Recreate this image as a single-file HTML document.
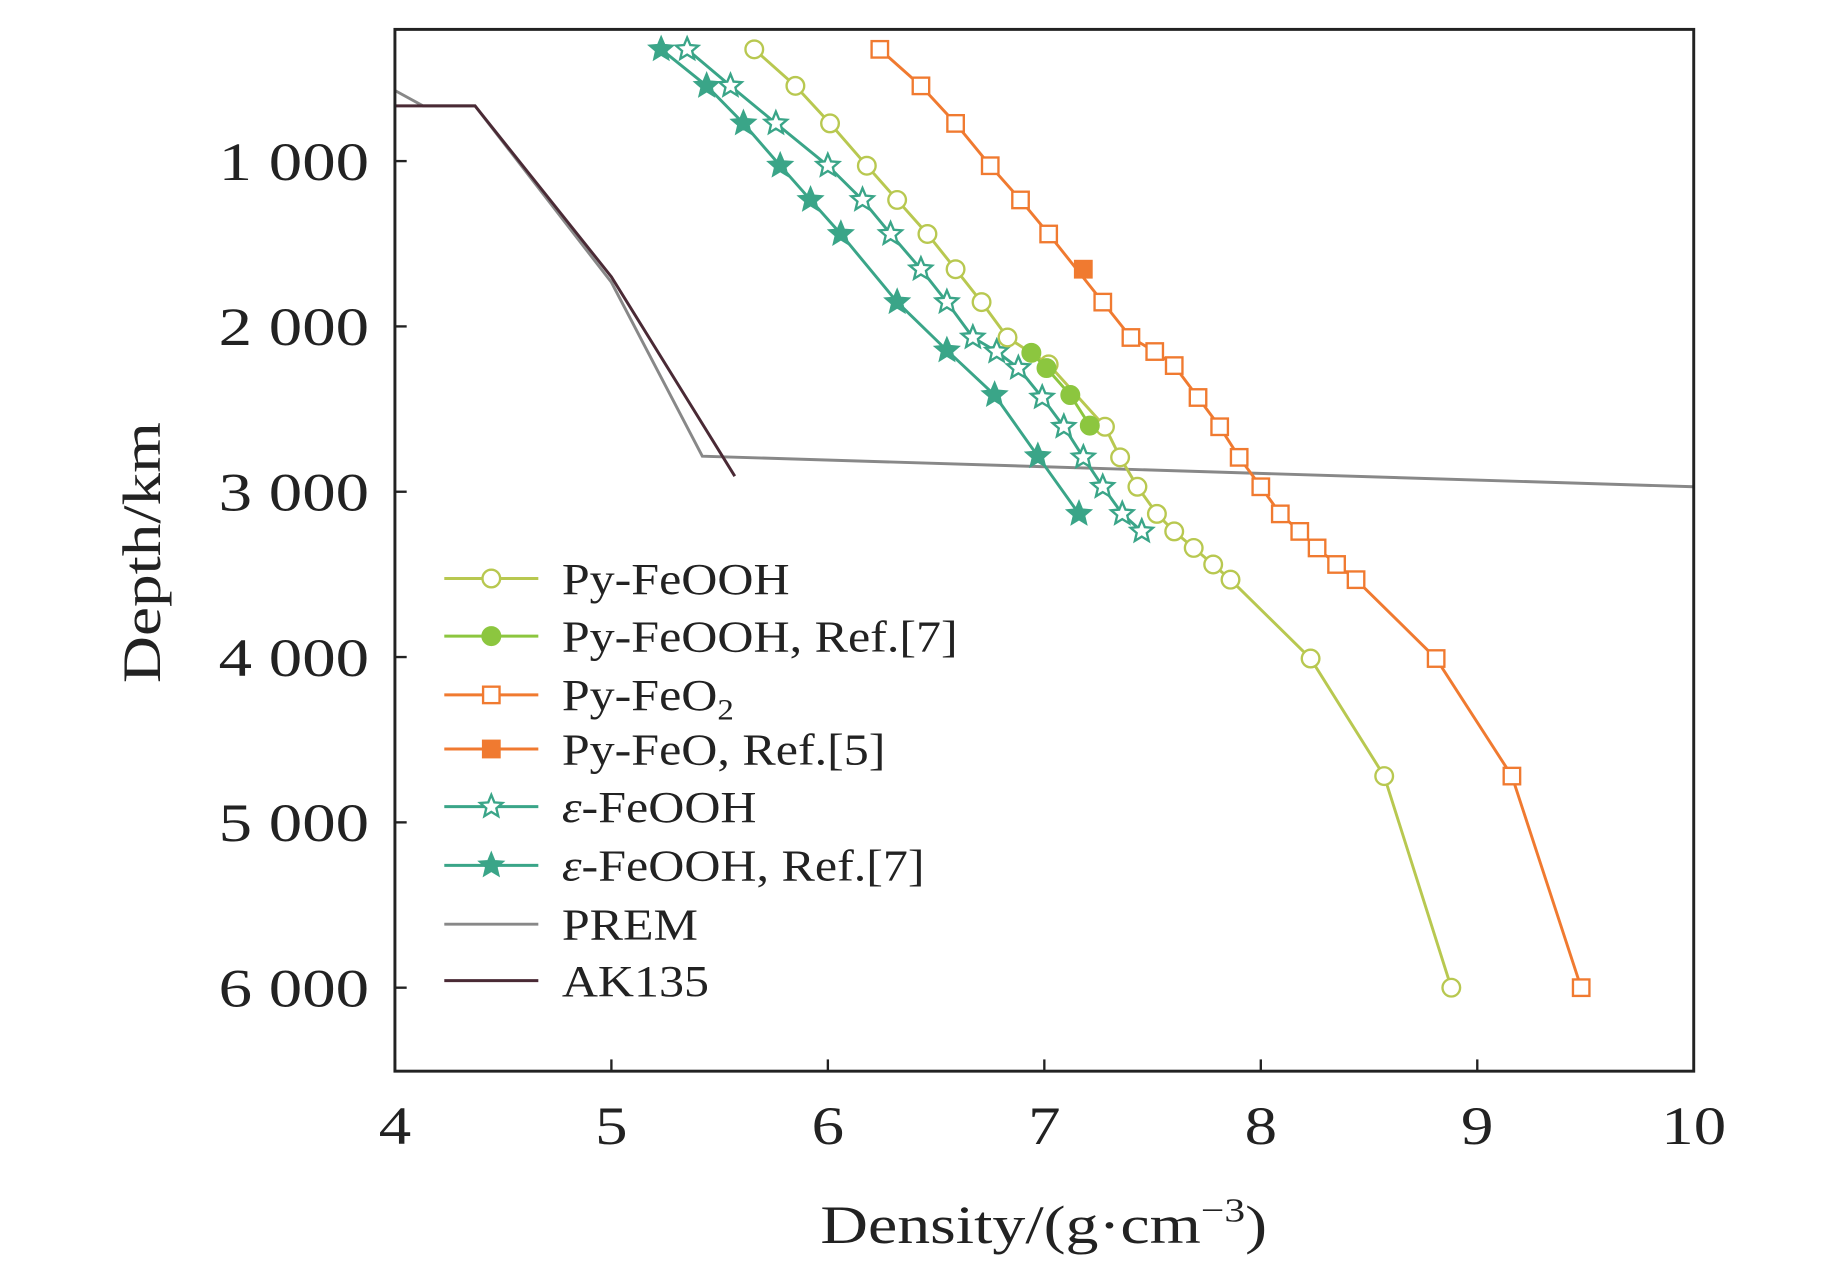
<!DOCTYPE html>
<html><head><meta charset="utf-8"><style>
html,body{margin:0;padding:0;background:#fff;}
svg{display:block;}
text{font-family:"Liberation Serif",serif;fill:#222;}
</style></head><body>
<svg id="chart" width="1843" height="1264" viewBox="0 0 1568 1075" preserveAspectRatio="none" xmlns="http://www.w3.org/2000/svg">
<rect x="0" y="0" width="1568" height="1075" fill="#fff"/>
<g id="plot"></g>
<rect x="336" y="25" width="1105" height="886" fill="none" stroke="#222" stroke-width="2.5"/>
<g id="axes"></g>
<text id="ytitle" transform="translate(136,470) rotate(-90)" text-anchor="middle" font-size="46" textLength="222" lengthAdjust="spacingAndGlyphs">Depth/km</text>
<text id="xtitle" x="888" y="1057" text-anchor="middle" font-size="46">Density/(g·cm<tspan dy="-18" font-size="29">−3</tspan><tspan dy="18">)</tspan></text>
<g id="legend"></g>
</svg>
<script>
const xTicks=[4,5,6,7,8,9,10];
const yTicks=[1000,2000,3000,4000,5000,6000];
const yTickLabels=["1 000","2 000","3 000","4 000","5 000","6 000"];
const pyFeOOH_x=[5.66,5.85,6.01,6.18,6.32,6.46,6.59,6.71,6.83,7.02,7.28,7.35,7.43,7.52,7.60,7.69,7.78,7.86,8.23,8.57,8.88];
const pyFeOOH_y=[324,545,772,1028,1235,1441,1654,1853,2067,2230,2607,2792,2970,3134,3240,3340,3440,3532,4009,4720,6000];
const pyFeOOHRef_x=[6.94,7.01,7.12,7.21];
const pyFeOOHRef_y=[2160,2252,2415,2600];
const pyFeO2_x=[6.24,6.43,6.59,6.75,6.89,7.02,7.27,7.40,7.51,7.60,7.71,7.81,7.90,8.00,8.09,8.18,8.26,8.35,8.44,8.81,9.16,9.48];
const pyFeO2_y=[324,545,772,1028,1235,1441,1853,2067,2152,2237,2430,2607,2792,2970,3134,3240,3340,3440,3532,4009,4720,6000];
const pyFeORef_x=[7.18];
const pyFeORef_y=[1654];
const epsFeOOH_x=[5.35,5.55,5.76,6.00,6.16,6.29,6.43,6.55,6.67,6.78,6.88,6.99,7.09,7.18,7.27,7.36,7.45];
const epsFeOOH_y=[324,545,772,1028,1235,1441,1654,1853,2067,2152,2252,2430,2607,2792,2970,3134,3240];
const epsRef_x=[5.23,5.44,5.61,5.78,5.92,6.06,6.32,6.55,6.77,6.97,7.16];
const epsRef_y=[324,545,772,1028,1235,1441,1853,2145,2415,2785,3134];
const prem_x=[4.0,4.13,4.37,5.0,5.42,10];
const prem_y=[573,666,666,1733,2785,2970];
const ak_x=[4.0,4.37,5.0,5.57];
const ak_y=[666,666,1700,2906];

const NS="http://www.w3.org/2000/svg";
const X=v=>336+(v-4)*184.17;
const Y=d=>-3.6+d*0.1406;
function mk(t,a,p){const e=document.createElementNS(NS,t);for(const k in a)e.setAttribute(k,a[k]);p.appendChild(e);return e;}
const plot=document.getElementById('plot'),axes=document.getElementById('axes'),leg=document.getElementById('legend');
function starPts(cx,cy,r){let s=[];for(let i=0;i<10;i++){const rr=i%2?r*0.45:r;const a=-Math.PI/2+i*Math.PI/5;s.push((cx+rr*Math.cos(a)).toFixed(1)+','+(cy+rr*Math.sin(a)).toFixed(1));}return s.join(' ');}
function marker(kind,cx,cy,color,fill,p){
  let e;
  if(kind==='circle')e=mk('circle',{cx:cx,cy:cy,r:7.5,fill:fill?color:'#fff',stroke:color,'stroke-width':2},p);
  else if(kind==='square')e=mk('rect',{x:cx-7,y:cy-7,width:14,height:14,fill:fill?color:'#fff',stroke:color,'stroke-width':2},p);
  else e=mk('polygon',{points:starPts(cx,cy,10),fill:fill?color:'#fff',stroke:color,'stroke-width':2},p);
  return e;
}
function series(name,xs,ys,color,kind,fill,lw){
  const g=mk('g',{},plot);
  
  
  const ln=mk('polyline',{points:xs.map((v,i)=>X(v)+','+Y(ys[i])).join(' '),fill:'none',stroke:color,'stroke-width':lw||2.5},g);
  
  
  if(kind){xs.forEach((v,i)=>{const m=marker(kind,X(v),Y(ys[i]),color,fill,g);
    
    });}
}
series('prem-line',prem_x,prem_y,'#888',null,false,2.5);
series('ak135-line',ak_x,ak_y,'#4a2a35',null,false,2.5);
series('py-feo2-series',pyFeO2_x,pyFeO2_y,'#f07a30','square',false);
series('py-feo-ref5-series',pyFeORef_x,pyFeORef_y,'#f07a30','square',true);
series('eps-feooh-ref7-series',epsRef_x,epsRef_y,'#3aa588','star',true);
series('eps-feooh-series',epsFeOOH_x,epsFeOOH_y,'#3aa588','star',false);
series('py-feooh-series',pyFeOOH_x,pyFeOOH_y,'#b8c850','circle',false);
series('py-feooh-ref7-series',pyFeOOHRef_x,pyFeOOHRef_y,'#8cc63f','circle',true);

xTicks.forEach(v=>{
  const t=mk('line',{x1:X(v),x2:X(v),y1:911,y2:901,stroke:'#222','stroke-width':2},axes);
  
  
  const l=mk('text',{x:X(v),y:973,'text-anchor':'middle','font-size':46},axes);l.textContent=v;
  
  
  const w=l.getComputedTextLength();l.setAttribute('textLength',w*1.2);l.setAttribute('lengthAdjust','spacingAndGlyphs');
});
yTicks.forEach((v,i)=>{
  const t=mk('line',{x1:336,x2:346,y1:Y(v),y2:Y(v),stroke:'#222','stroke-width':2},axes);
  
  
  const l=mk('text',{x:314,y:Y(v)+16,'text-anchor':'end','font-size':46,textLength:128,lengthAdjust:'spacingAndGlyphs'},axes);l.textContent=yTickLabels[i];
  
  
});
const xt=document.getElementById('xtitle');xt.setAttribute('textLength',380);xt.setAttribute('lengthAdjust','spacingAndGlyphs');
const legItems=[
 ['Py-FeOOH','#b8c850','circle',false],
 ['Py-FeOOH, Ref.[7]','#8cc63f','circle',true],
 ['Py-FeO2','#f07a30','square',false],
 ['Py-FeO, Ref.[5]','#f07a30','square',true],
 ['ε-FeOOH','#3aa588','star',false],
 ['ε-FeOOH, Ref.[7]','#3aa588','star',true],
 ['PREM','#888',null,false],
 ['AK135','#4a2a35',null,false]];
const legY=[492,541,591,637,686,736,786,834];
legItems.forEach((it,i)=>{
  const g=mk('g',{},leg);
  
  
  const y=legY[i];
  mk('line',{x1:378,x2:458,y1:y,y2:y,stroke:it[1],'stroke-width':2.5},g);
  if(it[2])marker(it[2],418,y,it[1],it[3],g);
  const t=mk('text',{x:478,y:y+13,'font-size':38},g);
  if(it[0]==='Py-FeO2'){t.innerHTML='Py-FeO<tspan dy="8" font-size="25">2</tspan>';}
  else if(it[0].startsWith('ε')){t.innerHTML='<tspan font-style="italic">ε</tspan>'+it[0].slice(1);}
  else t.textContent=it[0];
  if(it[0]!=='Py-FeO2'){const w=t.getComputedTextLength();t.setAttribute('textLength',w*1.12);t.setAttribute('lengthAdjust','spacingAndGlyphs');}
  else{t.setAttribute('transform','translate(478,0) scale(1.12,1) translate(-478,0)');}
});
</script>
</body></html>
